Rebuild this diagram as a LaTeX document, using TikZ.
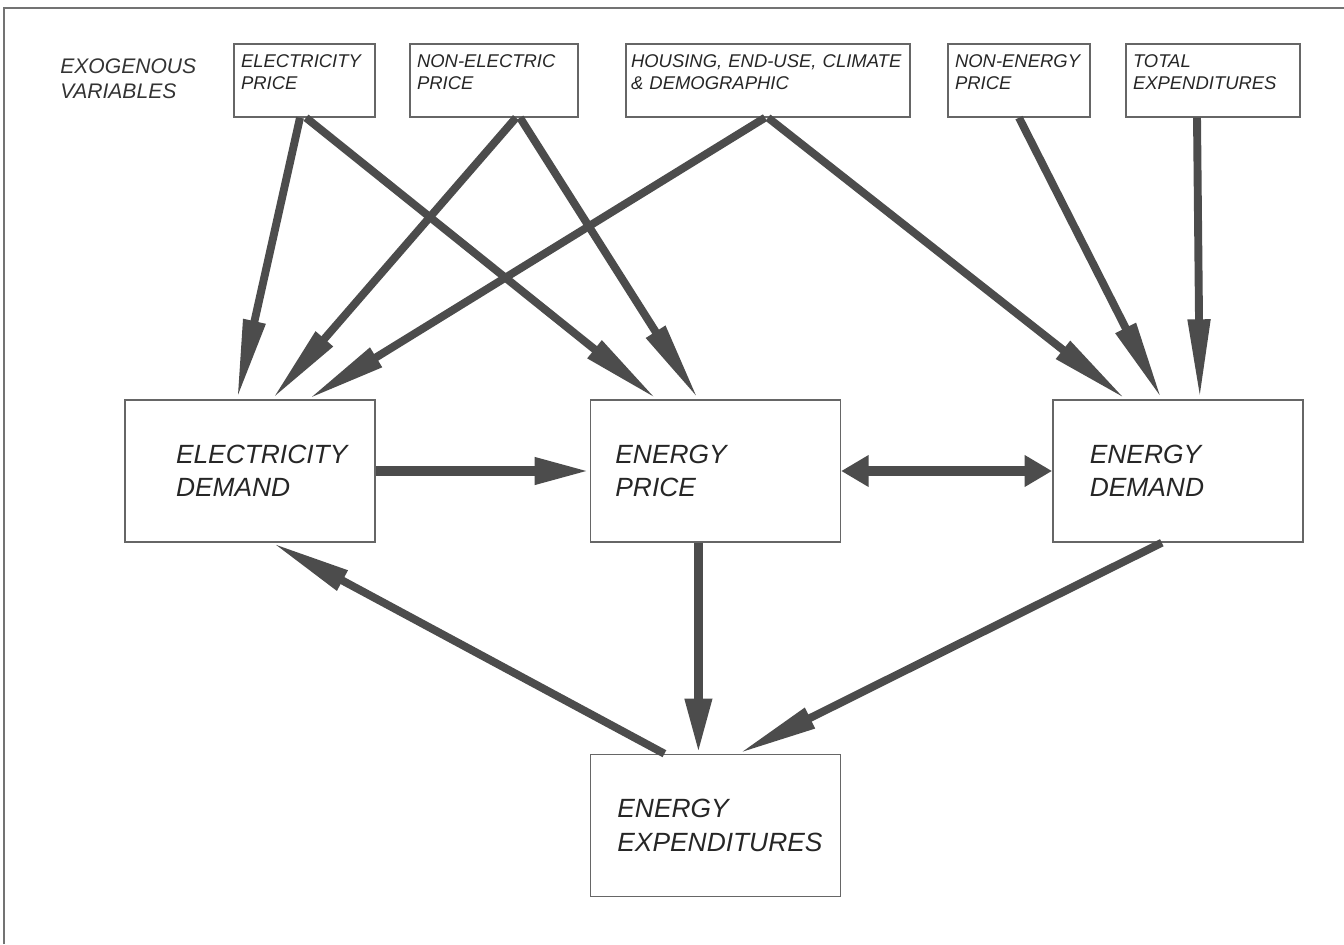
\documentclass[tikz,border=0pt]{standalone}
\usepackage{fontspec}
\setsansfont{Liberation Sans}
\usetikzlibrary{positioning,arrows.meta}

\begin{document}
\begin{tikzpicture}[
        exo/.style={align=left, font=\sffamily\itshape\fontsize{12}{14}\selectfont, text=black!80, inner sep=0pt},
        varbox/.style={rectangle, draw=black!60, line width=0.8pt, align=left, font=\sffamily\itshape\fontsize{10.5}{12}\selectfont, text=black!85, inner xsep=0.14cm, inner ysep=0.2cm, text height=0.28cm, text depth=0.78cm},
        modelbox/.style={rectangle, draw=black!60, line width=0.8pt, align=left, font=\sffamily\itshape\fontsize{15}{19}\selectfont, text=black!85, text width=5cm, minimum height=2.84cm, inner xsep=0pt, execute at begin node={\leftskip=#1}},
        flow/.style={draw=black!70, line width=4.5pt, -{Triangle[length=1.6cm, width=0.42cm]}},
        flowstraight/.style={draw=black!70, line width=5.5pt, -{Triangle[length=1.1cm, width=0.5cm]}},
        flowboth/.style={draw=black!70, line width=5.5pt, {Triangle[length=0.55cm, width=0.6cm]}-{Triangle[length=0.55cm, width=0.6cm]}},
    ]
    \useasboundingbox (0,0) rectangle (26.88,-18.88);
    \draw[black!55, line width=0.6pt] (0.08,-18.88) -- (0.08,-0.16) -- (26.88,-0.16);

    \node[exo, anchor=west] (exovar) at (1.2,-1.57) {EXOGENOUS\\VARIABLES};
    \node[varbox, text width=2.54cm] (elecP) at (6.09,-1.61) {ELECTRICITY\\PRICE};
    \node[varbox, text width=3.08cm] (nonelecP) at (9.88,-1.61) {NON-ELECTRIC\\PRICE};
    \node[varbox, text width=5.48cm, inner xsep=0.1cm] (housing) at (15.36,-1.61) {HOUSING, END-USE, CLIMATE\\\& DEMOGRAPHIC};
    \node[varbox, text width=2.56cm] (nonenergyP) at (20.38,-1.61) {NON-ENERGY\\PRICE};
    \node[varbox, text width=3.2cm] (totalexp) at (24.26,-1.61) {TOTAL\\EXPENDITURES};

    \node[modelbox=1.02cm] (elecD) at (5.0,-9.42) {ELECTRICITY\\DEMAND};
    \node[modelbox=0.5cm] (enerP) [right=4.28cm of elecD] {ENERGY\\PRICE};
    \node[modelbox=0.74cm] (enerD) [right=4.22cm of enerP] {ENERGY\\DEMAND};
    \node[modelbox=0.54cm] (enerX) [below=4.22cm of enerP] {ENERGY\\EXPENDITURES};

    \draw[flow] ([xshift=-0.09cm]elecP.south) -- ([xshift=-0.26cm]elecD.north);
    \draw[flow] ([xshift=0.03cm]elecP.south) -- ([xshift=-1.17cm]enerP.north);
    \draw[flow] ([xshift=0.44cm]nonelecP.south) -- ([xshift=0.44cm]elecD.north);
    \draw[flow] ([xshift=0.52cm]nonelecP.south) -- ([xshift=-0.34cm]enerP.north);
    \draw[flow] ([xshift=-0.06cm]housing.south) -- ([xshift=1.16cm]elecD.north);
    \draw[flow] (housing.south) -- ([xshift=-1.04cm]enerD.north);
    \draw[flow] (nonenergyP.south) -- ([xshift=-0.32cm]enerD.north);
    \draw[flow] ([xshift=-0.32cm]totalexp.south) -- ([xshift=0.44cm]enerD.north);

    \draw[flowstraight] (elecD.east) -- (enerP.west);
    \draw[flowboth] (enerP.east) -- (enerD.west);
    \draw[flowstraight] ([xshift=-0.34cm]enerP.south) -- ([xshift=-0.34cm]enerX.north);
    \draw[flow] ([xshift=-1.02cm]enerX.north) -- ([xshift=0.44cm]elecD.south);
    \draw[flow] ([xshift=-0.32cm]enerD.south) -- ([xshift=0.46cm]enerX.north);
\end{tikzpicture}
\end{document}
